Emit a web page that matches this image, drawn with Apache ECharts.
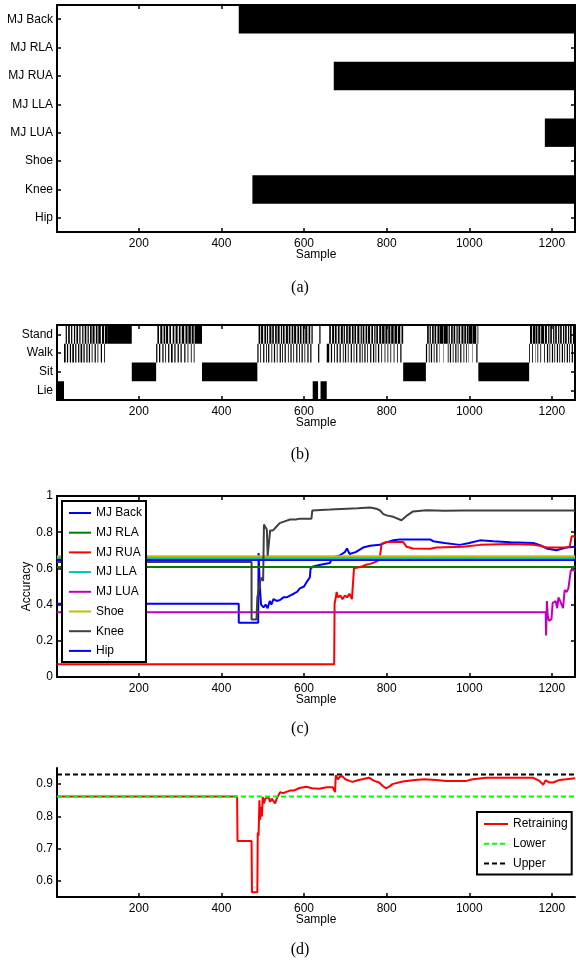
<!DOCTYPE html>
<html>
<head>
<meta charset="utf-8">
<script src="https://cdn.jsdelivr.net/npm/echarts@6/dist/echarts.min.js"></script>
<style>
  html, body { margin: 0; padding: 0; background: #fff; }
  #main { width: 576px; height: 963px; }
</style>
</head>
<body>
<div id="main"></div>
<script>
var sampleMin = 2, sampleMax = 1256;
var sampleTicks = [200, 400, 600, 800, 1000, 1200];

// (a) sensor state: from this sample to the end the sensor row is black
var sensorNames = ['MJ Back', 'MJ RLA', 'MJ RUA', 'MJ LLA', 'MJ LUA', 'Shoe', 'Knee', 'Hip'];
var sensorChangeAt = [['MJ Back', 442], ['MJ RUA', 672], ['MJ LUA', 1183], ['Knee', 475]];

// (b) activity
var activityNames = ['Stand', 'Walk', 'Sit', 'Lie'];
var activityBlocks = [
  ['Lie', 2, 19], ['Stand', 125, 183], ['Sit', 183, 242], ['Sit', 353, 487],
  ['Lie', 621, 634], ['Lie', 640, 655], ['Sit', 840, 895], ['Sit', 1022, 1145]
];
// start sample, then run lengths Walk, Stand, Walk, Stand ...
var walkStandRuns = [
  [19, [4,3,3,4,3,3,4,3,3,4,3,3,4,3,3,4,3,3,3,4,2,5,3,4,2,6,3,5,2,7]],
  [242, [3,4,3,5,3,4,2,5,3,4,4,4,3,5,3,4,3,6,3,5,2,6,2,5,2,18]],
  [487, [3,4,2,5,3,4,2,3,3,5,2,4,3,4,2,5,3,3,2,4,3,5,2,4,3,4,2,5,3,4,2,4,3,4,2,5,3,4,3,3]],
  [634, [3,3]],
  [655, [6,4,3,5,2,4,3,4,3,5,2,3,3,4,2,5,3,4,2,4,3,5,3,3,2,4,3,4,2,5,3,4,3,3,2,4,3,5,2,6,2,5,2,5,2,6,2,6,2,6,3,4]],
  [895, [3,4,2,3,3,4,2,4,3,5,1,8,1,10,2,3,3,4,2,4,3,3,2,4,3,5,2,4,2,3,1,10,1,8,3,2]],
  [1145, [2,5,2,6,1,4,2,5,2,7,2,5,3,3,2,4,3,3,2,4,3,3,2,4,3,3,2,4,3,3,2,4,3,5]]
];

// (c) accuracy per sensor
var accNames = ['MJ Back', 'MJ RLA', 'MJ RUA', 'MJ LLA', 'MJ LUA', 'Shoe', 'Knee', 'Hip'];
var accColors = ['#0000ff', '#008000', '#ff0000', '#00bfbf', '#bf00bf', '#bfbf00', '#404040', '#0000ff'];
var accMjBack = [[2,0.405],[442,0.405],[442,0.30],[489,0.30],[490,0.685],[493,0.50],[496,0.40],[502,0.385],[507,0.40],[512,0.38],[517,0.42],[521,0.40],[526,0.43],[534,0.42],[542,0.425],[550,0.44],[558,0.44],[566,0.45],[575,0.46],[583,0.47],[590,0.49],[600,0.50],[608,0.53],[614,0.55],[616,0.60],[622,0.61],[640,0.62],[663,0.63],[668,0.66],[685,0.67],[699,0.69],[704,0.71],[710,0.68],[725,0.69],[743,0.715],[760,0.725],[784,0.73],[800,0.745],[815,0.755],[832,0.76],[870,0.76],[905,0.76],[913,0.75],[940,0.74],[977,0.73],[1000,0.74],[1026,0.755],[1058,0.75],[1100,0.745],[1155,0.74],[1175,0.725],[1187,0.71],[1211,0.70],[1235,0.715],[1256,0.72]];
var accMjRla = [[2,0.608],[1256,0.608]];
var accMjRua = [[2,0.07],[673,0.07],[674,0.405],[677,0.44],[679,0.47],[682,0.44],[688,0.45],[693,0.43],[699,0.45],[704,0.44],[710,0.46],[716,0.43],[720,0.43],[721,0.60],[730,0.605],[740,0.61],[750,0.62],[760,0.625],[772,0.635],[780,0.645],[784,0.67],[787,0.67],[788,0.737],[800,0.746],[840,0.746],[848,0.72],[864,0.71],[905,0.709],[921,0.715],[985,0.72],[1026,0.73],[1100,0.735],[1155,0.73],[1171,0.725],[1187,0.715],[1235,0.715],[1243,0.72],[1248,0.777],[1256,0.777]];
var accMjLla = [[2,0.658],[1256,0.658]];
var accMjLua = [[2,0.358],[1185,0.358],[1186,0.23],[1188,0.42],[1190,0.34],[1193,0.31],[1199,0.32],[1202,0.41],[1206,0.40],[1209,0.42],[1213,0.38],[1216,0.44],[1220,0.42],[1224,0.43],[1227,0.38],[1231,0.48],[1236,0.47],[1240,0.49],[1243,0.50],[1246,0.59],[1256,0.59]];
var accShoe = [[2,0.667],[1256,0.667]];
var accKnee = [[2,0.635],[473,0.635],[473,0.317],[485,0.317],[487,0.44],[491,0.45],[494,0.53],[498,0.55],[501,0.53],[503,0.842],[506,0.83],[510,0.815],[512,0.67],[516,0.67],[518,0.81],[525,0.81],[533,0.83],[541,0.85],[553,0.86],[566,0.87],[580,0.87],[590,0.875],[618,0.875],[620,0.92],[663,0.925],[704,0.93],[730,0.932],[760,0.937],[775,0.93],[784,0.92],[792,0.90],[800,0.893],[816,0.885],[836,0.866],[848,0.89],[864,0.915],[896,0.921],[940,0.918],[985,0.92],[1256,0.92]];
var accHip = [[2,0.646],[1256,0.646]];
var accData = [accMjBack, accMjRla, accMjRua, accMjLla, accMjLua, accShoe, accKnee, accHip];

// (d) retraining
var retraining = [[2,0.862],[438,0.862],[439,0.724],[473,0.724],[474,0.565],[487,0.565],[488,0.75],[490,0.74],[492,0.85],[494,0.79],[496,0.83],[498,0.80],[500,0.86],[503,0.84],[506,0.855],[510,0.85],[514,0.86],[518,0.845],[522,0.855],[526,0.85],[530,0.84],[534,0.855],[538,0.865],[542,0.875],[550,0.872],[557,0.876],[566,0.88],[575,0.88],[589,0.888],[605,0.892],[620,0.887],[637,0.886],[655,0.89],[670,0.89],[675,0.875],[677,0.928],[682,0.915],[686,0.922],[692,0.925],[700,0.915],[710,0.91],[717,0.907],[730,0.912],[741,0.915],[757,0.92],[770,0.91],[782,0.905],[790,0.895],[798,0.887],[806,0.892],[814,0.90],[839,0.908],[863,0.912],[890,0.915],[920,0.913],[944,0.91],[993,0.91],[1009,0.915],[1041,0.92],[1122,0.92],[1154,0.92],[1170,0.91],[1179,0.898],[1185,0.912],[1195,0.905],[1203,0.905],[1219,0.913],[1235,0.915],[1256,0.918]];
var lowerBound = [[2,0.862],[1256,0.862]];
var upperBound = [[2,0.930],[1256,0.930]];

var SANS = '"Liberation Sans", Arial, Helvetica, sans-serif';
var SERIF = '"Liberation Serif", "Times New Roman", serif';
var black = '#000';

// bars for the two raster panels
var sensorData = sensorChangeAt.map(function (d) {
  return [d[1], sampleMax, sensorNames.indexOf(d[0])];
});
var activityData = activityBlocks.map(function (d) {
  return [d[1], d[2], activityNames.indexOf(d[0])];
});
walkStandRuns.forEach(function (r) {
  var s = r[0];
  r[1].forEach(function (len, i) {
    activityData.push([s, s + len, i % 2 === 0 ? 1 : 0]);
    s += len;
  });
});

function bandRect(params, api) {
  var row = api.value(2);
  var p0 = api.coord([api.value(0), row]);
  var p1 = api.coord([api.value(1), row]);
  var h = api.size([0, 1])[1];
  return {
    type: 'rect',
    shape: { x: p0[0], y: p0[1] - h / 2, width: p1[0] - p0[0], height: h },
    style: { fill: black }
  };
}

var lineSt = { color: black, width: 2 };
var tickSt = { color: black, width: 1.5 };
var labelSt = { color: black, fontSize: 12, fontFamily: SANS };

function sampleAxis(grid, pos, withLabels) {
  return {
    type: 'value', gridIndex: grid, position: pos, min: sampleMin, max: sampleMax,
    axisLine: { show: true, onZero: false, lineStyle: lineSt },
    axisTick: { show: true, inside: true, length: 4, customValues: sampleTicks, lineStyle: tickSt },
    axisLabel: Object.assign({ show: withLabels, margin: 6, customValues: sampleTicks,
      formatter: function (v) { return String(v); } }, labelSt),
    splitLine: { show: false },
    name: withLabels ? 'Sample' : '', nameLocation: 'middle', nameGap: 17,
    nameMoveOverlap: false,
    nameTextStyle: labelSt
  };
}
function catAxis(grid, pos, names, withLabels) {
  return {
    type: 'category', gridIndex: grid, position: pos, data: names, inverse: true,
    axisLine: { show: true, onZero: false, lineStyle: lineSt },
    axisTick: { show: true, inside: true, alignWithLabel: true, length: 4, lineStyle: tickSt },
    axisLabel: Object.assign({ show: withLabels, margin: 4 }, labelSt),
    splitLine: { show: false }
  };
}
function valAxis(grid, pos, withLabels, extra) {
  return Object.assign({
    type: 'value', gridIndex: grid, position: pos,
    axisLine: { show: true, onZero: false, lineStyle: lineSt },
    axisTick: { show: true, inside: true, length: 4, lineStyle: tickSt },
    axisLabel: Object.assign({ show: withLabels, margin: 4 }, labelSt),
    splitLine: { show: false }
  }, extra);
}

var series = [
  { type: 'custom', xAxisIndex: 0, yAxisIndex: 0, renderItem: bandRect, data: sensorData,
    encode: { x: [0, 1], y: 2 }, clip: true, silent: true },
  { type: 'custom', xAxisIndex: 2, yAxisIndex: 2, renderItem: bandRect, data: activityData,
    encode: { x: [0, 1], y: 2 }, clip: true, silent: true }
];
accNames.forEach(function (n, i) {
  series.push({
    type: 'line', name: n, xAxisIndex: 4, yAxisIndex: 4, data: accData[i],
    symbol: 'none', lineStyle: { color: accColors[i], width: 2 }, itemStyle: { color: accColors[i] }
  });
});
series.push(
  { type: 'line', name: 'Retraining', xAxisIndex: 6, yAxisIndex: 6, data: retraining, symbol: 'none',
    lineStyle: { color: '#ff0000', width: 2 }, itemStyle: { color: '#ff0000' } },
  { type: 'line', name: 'Lower', xAxisIndex: 6, yAxisIndex: 6, data: lowerBound, symbol: 'none',
    lineStyle: { color: '#00ff00', width: 2, type: [5, 3] }, itemStyle: { color: '#00ff00' } },
  { type: 'line', name: 'Upper', xAxisIndex: 6, yAxisIndex: 6, data: upperBound, symbol: 'none',
    lineStyle: { color: black, width: 2, type: [5, 3] }, itemStyle: { color: black } }
);

var legendBase = {
  orient: 'vertical', backgroundColor: '#fff', borderColor: black, borderWidth: 2, borderRadius: 0,
  itemWidth: 22, itemHeight: 12, itemGap: 7.7, padding: [6, 4, 5, 6],
  itemStyle: { opacity: 0, borderWidth: 0 },
  textStyle: { color: black, fontSize: 12, fontFamily: SANS, lineHeight: 12 },
  selectedMode: false
};

var option = {
  backgroundColor: '#fff',
  animation: false,
  grid: [
    { left: 57, top: 5, width: 518, height: 227, outerBoundsMode: 'none' },
    { left: 57, top: 325, width: 518, height: 75, outerBoundsMode: 'none' },
    { left: 57, top: 496, width: 518, height: 181, outerBoundsMode: 'none' },
    { left: 57, top: 768, width: 518, height: 129, outerBoundsMode: 'none' }
  ],
  xAxis: [
    sampleAxis(0, 'bottom', true), sampleAxis(0, 'top', false),
    sampleAxis(1, 'bottom', true), sampleAxis(1, 'top', false),
    sampleAxis(2, 'bottom', true), sampleAxis(2, 'top', false),
    sampleAxis(3, 'bottom', true)
  ],
  yAxis: [
    catAxis(0, 'left', sensorNames, true), catAxis(0, 'right', sensorNames, false),
    catAxis(1, 'left', activityNames, true), catAxis(1, 'right', activityNames, false),
    valAxis(2, 'left', true, { min: 0, max: 1, interval: 0.2, name: 'Accuracy', nameLocation: 'middle',
      nameGap: 24, nameRotate: 90, nameMoveOverlap: false, nameTextStyle: labelSt }),
    valAxis(2, 'right', false, { min: 0, max: 1, interval: 0.2 }),
    valAxis(3, 'left', true, { min: 0.55, max: 0.95,
      axisTick: { show: true, inside: true, length: 4, lineStyle: tickSt, customValues: [0.6, 0.7, 0.8, 0.9] },
      axisLabel: Object.assign({ margin: 4, customValues: [0.6, 0.7, 0.8, 0.9],
        formatter: function (v) { return v.toFixed(1); } }, labelSt) })
  ],
  legend: [
    Object.assign({}, legendBase, { left: 62, top: 501, data: accNames }),
    Object.assign({}, legendBase, { left: 477, top: 812, itemWidth: 24, data: ['Retraining', 'Lower', 'Upper'] })
  ],
  graphic: [
    { type: 'text', x: 300, y: 288, style: { text: '(a)', font: '16px ' + SERIF, fill: black, align: 'center', verticalAlign: 'middle' } },
    { type: 'text', x: 300, y: 455, style: { text: '(b)', font: '16px ' + SERIF, fill: black, align: 'center', verticalAlign: 'middle' } },
    { type: 'text', x: 300, y: 729, style: { text: '(c)', font: '16px ' + SERIF, fill: black, align: 'center', verticalAlign: 'middle' } },
    { type: 'text', x: 300, y: 950, style: { text: '(d)', font: '16px ' + SERIF, fill: black, align: 'center', verticalAlign: 'middle' } }
  ],
  series: series
};

var chart = echarts.init(document.getElementById('main'));
chart.setOption(option);
window.addEventListener('resize', function () {
  chart.resize();
});
</script>
</body>
</html>
